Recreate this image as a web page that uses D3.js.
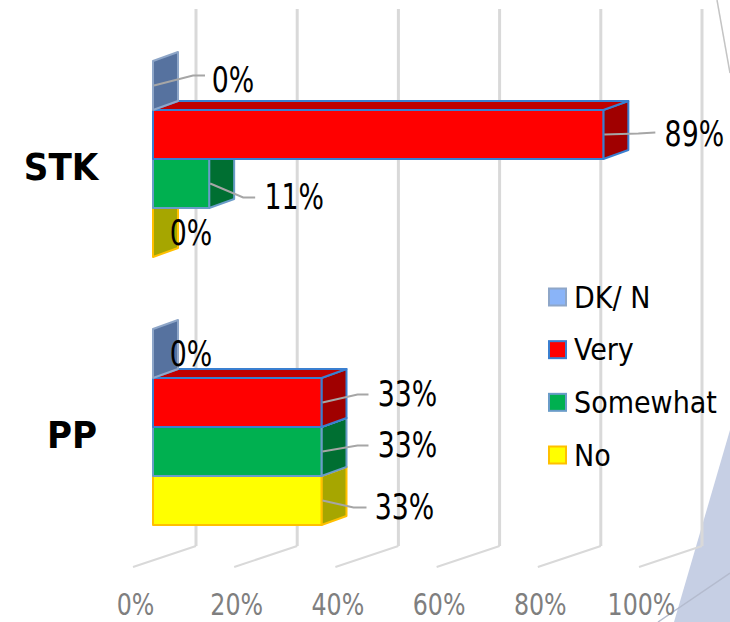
<!DOCTYPE html>
<html>
<head>
<meta charset="utf-8">
<script src="https://cdn.jsdelivr.net/npm/d3@7/dist/d3.min.js"></script>
<style>
  html, body { margin: 0; padding: 0; background: #fff; }
  svg { display: block; }
  text { font-family: "DejaVu Sans Condensed", "DejaVu Sans", sans-serif; }
</style>
</head>
<body>
<svg></svg>
<script>
  //Chart values
  const categories = ['STK', 'PP'];
  const seriesNames = ['DK/N', 'Very', 'Somewhat', 'No'];
  const stkValues = [0, 89, 11.1, 0];
  const ppValues = [0, 33.3, 33.3, 33.3];
  const axisTicks = [0, 20, 40, 60, 80, 100];

  const width = 730;
  const height = 622;

  const svg = d3.select('svg')
    .attr('width', width)
    .attr('height', height);

  //Colors per series: front, side, top, outline
  const frontColor = d3.scaleOrdinal(seriesNames, ['#8ab4f8', '#ff0000', '#00b050', '#ffff00']);
  const sideColor = d3.scaleOrdinal(seriesNames, ['#56729f', '#a00000', '#006f32', '#a6a600']);
  const topColor = d3.scaleOrdinal(seriesNames, ['#6b8cbd', '#c00000', '#008a3e', '#c4c400']);
  const edgeColor = d3.scaleOrdinal(seriesNames, ['#8ea6c8', '#3a7fd0', '#6a9cc8', '#ffc000']);

  //Scales
  const x = d3.scaleLinear().domain([0, 100]).range([153, 659]);
  const yCategory = d3.scaleBand().domain(categories).range([25, 561]);
  const ySeries = d3.scaleBand().domain(seriesNames).range([-98, 98]);

  //3D depth of the bars and of the floor
  const barDepth = { x: 25, y: -9 };
  const floorDepth = { x: 63, y: -21 };
  const floorFrontShift = -20;
  const floorFrontY = 567;
  const gridTop = 9;

  //Slide decoration behind the chart
  const decoration = svg.append('g');
  decoration.append('path')
    .attr('d', 'M730,430L674,622L730,622Z')
    .attr('fill', '#c6cfe4');
  decoration.append('path')
    .attr('d', 'M658,622L730,573')
    .attr('stroke', '#b4bbce')
    .attr('stroke-width', 1.5)
    .attr('fill', 'none');
  decoration.append('path')
    .attr('d', 'M717,0L730,73')
    .attr('stroke', '#c4c4c4')
    .attr('stroke-width', 1.5)
    .attr('fill', 'none');

  //Gridlines: back wall plus the thinner floor segment
  const grid = svg.append('g')
    .selectAll('g')
    .data(axisTicks)
    .enter().append('g')
    .attr('fill', 'none')
    .attr('stroke', '#d9d9d9');
  grid.append('path')
    .attr('stroke-width', 3)
    .attr('d', d => {
      const bx = x(d) + floorFrontShift + floorDepth.x;
      return `M${bx},${gridTop}V${floorFrontY + floorDepth.y}`;
    });
  grid.append('path')
    .attr('stroke-width', 2)
    .attr('d', d => {
      const fx = x(d) + floorFrontShift;
      return `M${fx + floorDepth.x},${floorFrontY + floorDepth.y}L${fx},${floorFrontY}`;
    });

  //Flatten to one record per bar
  const bars = [];
  categories.forEach((category, c) => {
    const values = c === 0 ? stkValues : ppValues;
    seriesNames.forEach((name, s) => bars.push({ category, name, value: values[s] }));
  });

  const barY = d => yCategory(d.category) + yCategory.bandwidth() / 2 + ySeries(d.name);
  const barH = ySeries.bandwidth();

  //Drawn bottom to top so each bar covers the top face of the one below
  const barGroups = svg.append('g')
    .selectAll('g')
    .data(bars.slice().reverse())
    .enter().append('g')
    .attr('stroke', d => edgeColor(d.name))
    .attr('stroke-width', 2)
    .attr('stroke-linejoin', 'round');

  barGroups.append('path')
    .attr('fill', d => sideColor(d.name))
    .attr('d', d => {
      const x1 = x(d.value), y0 = barY(d);
      return `M${x1},${y0}l${barDepth.x},${barDepth.y}v${barH}l${-barDepth.x},${-barDepth.y}Z`;
    });

  barGroups.filter(d => d.value > 0).append('path')
    .attr('fill', d => topColor(d.name))
    .attr('d', d => {
      const x0 = x(0), x1 = x(d.value), y0 = barY(d);
      return `M${x0},${y0}l${barDepth.x},${barDepth.y}H${x1 + barDepth.x}L${x1},${y0}Z`;
    });

  barGroups.filter(d => d.value > 0).append('rect')
    .attr('fill', d => frontColor(d.name))
    .attr('x', x(0))
    .attr('y', barY)
    .attr('width', d => x(d.value) - x(0))
    .attr('height', barH);

  //The lettering in the picture is squeezed horizontally
  const labelSqueeze = 0.85;
  const axisSqueeze = 0.88;

  //Hand placed data labels, offsets from the end and middle of each bar
  const labelOffsets = {
    'STK|DK/N': { dx: 80, dy: -6, leader: [[40, -10], [52, -10]] },
    'STK|Very': { dx: 91, dy: -1, leader: [[35, -1], [52, -2]] },
    'STK|Somewhat': { dx: 85, dy: 13, leader: [[34, 14], [46, 14]] },
    'STK|No': { dx: 38, dy: 0 },
    'PP|DK/N': { dx: 38, dy: 0 },
    'PP|Very': { dx: 86, dy: -9, leader: [[36, -8], [47, -8]] },
    'PP|Somewhat': { dx: 86, dy: -7, leader: [[36, -6], [47, -6]] },
    'PP|No': { dx: 83, dy: 6, leader: [[32, 7], [45, 7]] }
  };
  const offsetOf = d => labelOffsets[`${d.category}|${d.name}`];

  //Leader lines
  svg.append('g')
    .selectAll('path')
    .data(bars.filter(d => offsetOf(d).leader))
    .enter().append('path')
    .attr('fill', 'none')
    .attr('stroke', '#a6a6a6')
    .attr('stroke-width', 2)
    .attr('d', d => {
      const px = x(d.value), py = barY(d) + barH / 2;
      const pts = offsetOf(d).leader.map(p => [px + p[0], py + p[1]]);
      return d3.line()([[px + 1, py], ...pts]);
    });

  //Data labels
  svg.append('g')
    .selectAll('text')
    .data(bars)
    .enter().append('text')
    .attr('transform', d => {
      const tx = x(d.value) + offsetOf(d).dx;
      const ty = barY(d) + barH / 2 + offsetOf(d).dy;
      return `translate(${tx},${ty}) scale(${labelSqueeze},1)`;
    })
    .attr('text-anchor', 'middle')
    .attr('dy', '0.36em')
    .attr('font-size', 35)
    .attr('fill', '#000')
    .text(d => `${Math.round(d.value)}%`);

  //Category labels
  const categoryX = d3.scaleOrdinal(categories, [61, 72]);
  svg.append('g')
    .selectAll('text')
    .data(categories)
    .enter().append('text')
    .attr('x', d => categoryX(d))
    .attr('y', d => yCategory(d) + yCategory.bandwidth() / 2 + 7)
    .attr('text-anchor', 'middle')
    .attr('dy', '0.36em')
    .attr('font-size', 38)
    .attr('font-weight', 'bold')
    .text(d => d);

  //Value axis, only the labels show
  const axis = svg.append('g')
    .attr('transform', `translate(${floorFrontShift + 2},585)`)
    .call(d3.axisBottom(x).tickValues(axisTicks).tickFormat(d => `${d}%`).tickSize(0).tickPadding(0));
  axis.select('.domain').remove();
  axis.selectAll('text')
    .attr('font-size', 30)
    .attr('font-family', null)
    .attr('fill', '#7f7f7f')
    .attr('y', 30)
    .attr('dy', 0)
    .attr('transform', `scale(${axisSqueeze},1)`);

  //Legend
  const legendY = d3.scalePoint().domain(seriesNames).range([297, 455]);
  const legend = svg.append('g')
    .selectAll('g')
    .data(seriesNames)
    .enter().append('g')
    .attr('transform', d => `translate(549,${legendY(d)})`);
  legend.append('rect')
    .attr('x', 0)
    .attr('y', -8.5)
    .attr('width', 17)
    .attr('height', 17)
    .attr('fill', d => frontColor(d))
    .attr('stroke', d => edgeColor(d))
    .attr('stroke-width', 2);
  legend.append('text')
    .attr('x', 25)
    .attr('dy', '0.36em')
    .attr('font-size', 30)
    .text(d => d === 'DK/N' ? 'DK/ N' : d);
</script>
</body>
</html>
